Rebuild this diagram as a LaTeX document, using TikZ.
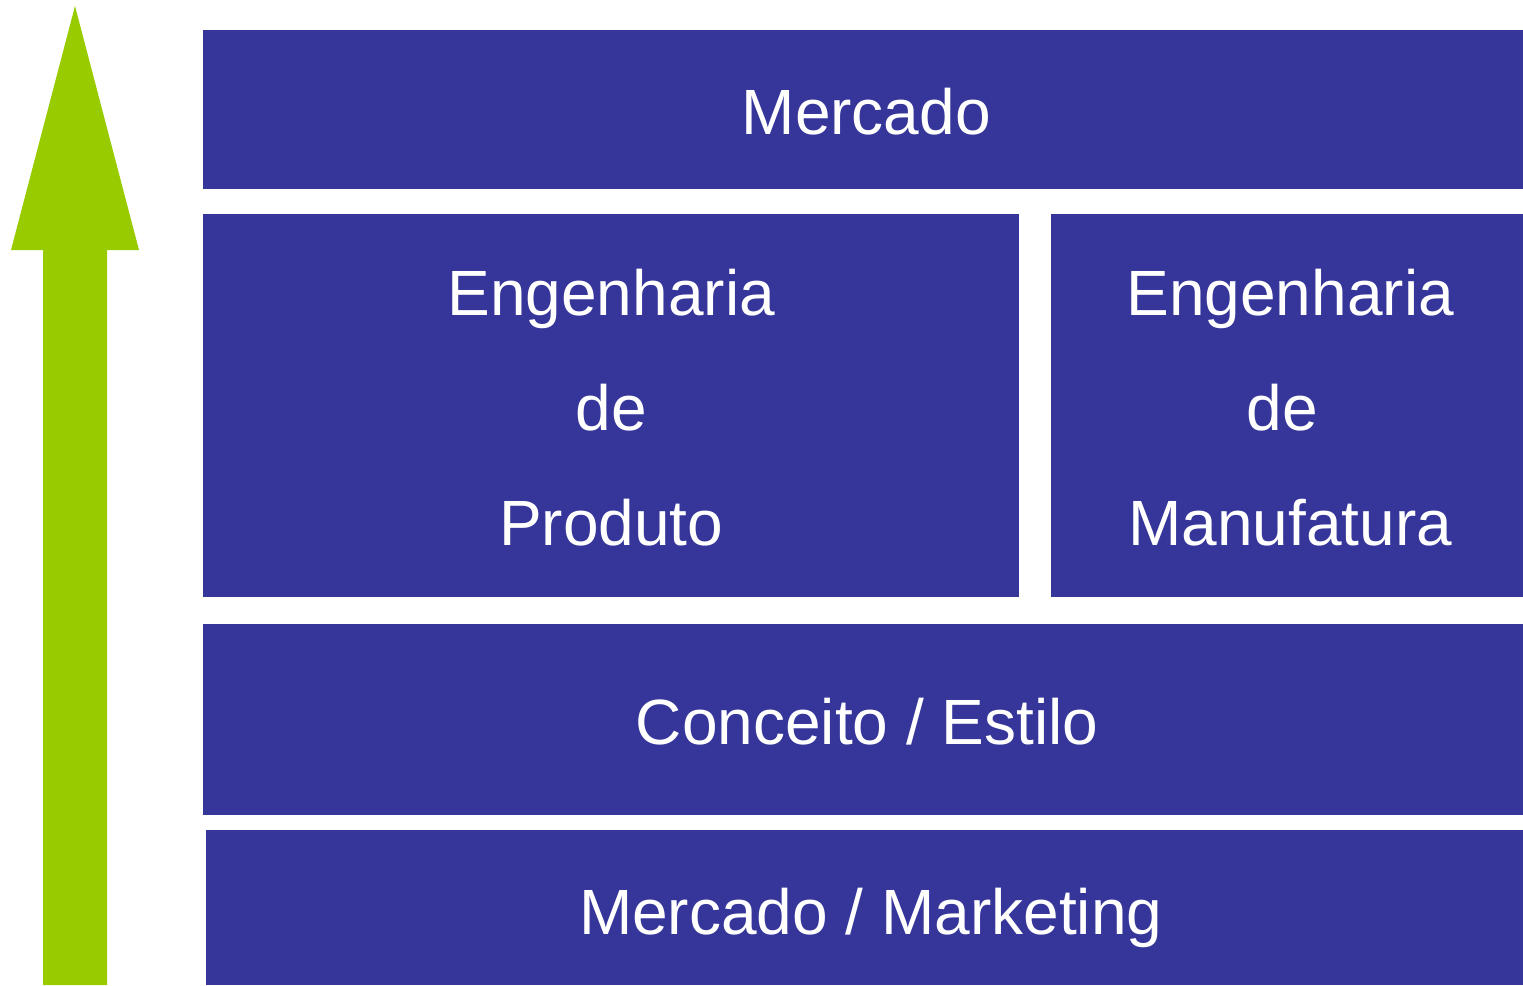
\documentclass[tikz,border=0pt]{standalone}
\usepackage{fontspec}
\setmainfont{Liberation Sans}
\definecolor{boxblue}{RGB}{53,53,154}
\definecolor{arrowgreen}{RGB}{153,204,0}
\begin{document}
\begin{tikzpicture}[x=1pt,y=-1pt,
  blk/.style={fill=boxblue,draw=none,inner sep=0pt,anchor=north west},
  lbl/.style={text=white,font=\fontsize{64}{115}\selectfont,align=center,inner sep=0pt}]
\useasboundingbox (0,0) rectangle (1523,985);
% arrow
\fill[arrowgreen] (43,985) -- (43,250) -- (11,250) -- (75,6) -- (139,250) -- (107,250) -- (107,985) -- cycle;
% boxes
\node[blk,minimum width=1320pt,minimum height=159pt] (top) at (203,30) {};
\node[blk,minimum width=816pt,minimum height=383pt] (prod) at (203,214) {};
\node[blk,minimum width=472pt,minimum height=383pt] (manu) at (1051,214) {};
\node[blk,minimum width=1320pt,minimum height=191pt] (conc) at (203,624) {};
\node[blk,minimum width=1317pt,minimum height=155pt] (mark) at (206,830) {};
% labels
\node[lbl] (tTop) at ([xshift=3pt,yshift=-2pt]top.center) {Mercado};
\node[lbl] (tProd) at ([yshift=-2pt]prod.center) {Engenharia\\de\\Produto};
\node[lbl] (tManu) at ([xshift=3pt,yshift=-2pt]manu.center) {Engenharia\\\hspace*{-16pt}de\\Manufatura};
\node[lbl] (tConc) at ([xshift=4pt,yshift=-2pt]conc.center) {Conceito / Estilo};
\node[lbl] (tMark) at ([xshift=6pt,yshift=-10pt]mark.center) {Mercado / Marketing};
\end{tikzpicture}
\end{document}
